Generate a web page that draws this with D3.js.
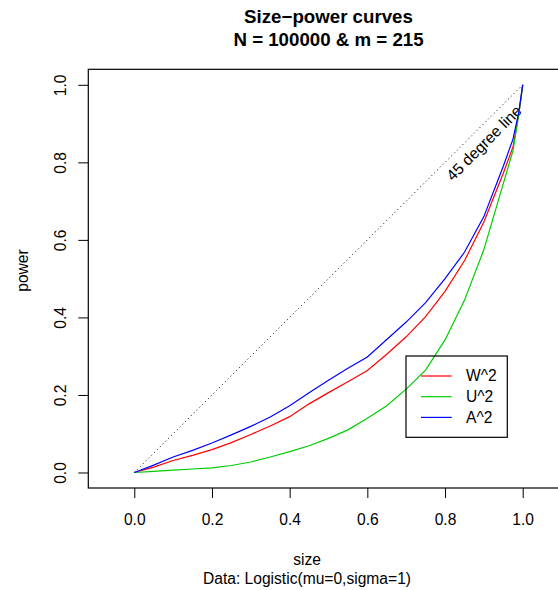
<!DOCTYPE html>
<html>
<head>
<meta charset="utf-8">
<script src="https://cdn.jsdelivr.net/npm/d3@7"></script>
<style>
  body { margin: 0; background: #fff; }
  svg { font-family: "Liberation Sans", Arial, Helvetica, sans-serif; }
  .axis text { font-size: 15.6px; fill: #000; }
  .axis line { stroke: #000; }
  .axis path { display: none; }
</style>
</head>
<body>
<svg width="558" height="590"></svg>
<script>
// size values the powers were read at
const sizes = [0, 0.05, 0.1, 0.15, 0.2, 0.25, 0.3, 0.35, 0.4, 0.45, 0.5,
  0.55, 0.6, 0.65, 0.7, 0.75, 0.8, 0.85, 0.9, 0.95, 0.975, 0.99, 1];

// power of each statistic
const powerW2 = [0, 0.014, 0.031, 0.044, 0.059, 0.077, 0.098, 0.120, 0.144, 0.177, 0.206,
  0.234, 0.263, 0.305, 0.350, 0.402, 0.467, 0.546, 0.646, 0.772, 0.84, 0.925, 1];
const powerU2 = [0, 0.003, 0.006, 0.009, 0.012, 0.018, 0.027, 0.040, 0.054, 0.069, 0.088,
  0.110, 0.140, 0.172, 0.215, 0.264, 0.342, 0.444, 0.575, 0.745, 0.83, 0.925, 1];
const powerA2 = [0, 0.019, 0.040, 0.057, 0.076, 0.097, 0.119, 0.143, 0.172, 0.206, 0.238,
  0.269, 0.298, 0.343, 0.388, 0.438, 0.500, 0.568, 0.660, 0.790, 0.86, 0.93, 1];

const seriesNames = ["W^2", "U^2", "A^2"];
const seriesColors = ["#ff0000", "#00cd00", "#0000ff"];
const xTicks = [0, 0.2, 0.4, 0.6, 0.8, 1];
const yTicks = [0, 0.2, 0.4, 0.6, 0.8, 1];

// plot region (right edge runs off the page, as in the original)
var box = {left: 88.3, top: 69.3, right: 568.7, bottom: 488};

var x = d3.scaleLinear().domain([-0.1184, 1.1184]).range([box.left, box.right]);
var y = d3.scaleLinear().domain([-0.04, 1.04]).range([box.bottom, box.top]);

var svg = d3.select("svg");

// Title
svg.append("text")
    .attr("x", 328.5).attr("y", 23.3)
    .attr("text-anchor", "middle")
    .style("font-size", "18.7px").style("font-weight", "bold")
    .text("Size\u2212power curves");
svg.append("text")
    .attr("x", 328.5).attr("y", 46.3)
    .attr("text-anchor", "middle")
    .style("font-size", "18.7px").style("font-weight", "bold")
    .text("N = 100000 & m = 215");

// 45 degree reference line
svg.append("line")
    .attr("x1", x(0)).attr("y1", y(0))
    .attr("x2", x(1)).attr("y2", y(1))
    .attr("stroke", "#000")
    .attr("stroke-width", 1)
    .attr("stroke-dasharray", "1,3");

svg.append("text")
    .attr("transform", "translate(" + x(0.9) + "," + y(0.85) + ") rotate(-45)")
    .attr("text-anchor", "middle")
    .attr("dy", "0.35em")
    .style("font-size", "15.6px")
    .text("45 degree line");

// the curves
var line = d3.line()
    .x(function(d) { return x(d[0]); })
    .y(function(d) { return y(d[1]); });

[powerW2, powerU2, powerA2].forEach(function(p, i) {
  svg.append("path")
      .attr("d", line(sizes.map(function(s, j) { return [s, p[j]]; })))
      .attr("fill", "none")
      .attr("stroke", seriesColors[i])
      .attr("stroke-width", 1.2);
});

// Add the X Axis
svg.append("g")
    .attr("class", "x axis")
    .attr("transform", "translate(0," + box.bottom + ")")
    .call(d3.axisBottom(x).tickValues(xTicks).tickFormat(d3.format(".1f"))
      .tickSize(10).tickPadding(16));

// Add the Y Axis, labels turned like R does
var gy = svg.append("g")
    .attr("class", "y axis")
    .attr("transform", "translate(" + box.left + ",0)")
    .call(d3.axisLeft(y).tickValues(yTicks).tickFormat(d3.format(".1f")).tickSize(10));
gy.selectAll(".tick text")
    .attr("x", null).attr("dy", null)
    .attr("text-anchor", "middle")
    .attr("transform", "translate(" + (65.5 - box.left) + ",0) rotate(-90)");

// frame
svg.append("rect")
    .attr("x", box.left).attr("y", box.top)
    .attr("width", box.right - box.left).attr("height", box.bottom - box.top)
    .attr("fill", "none").attr("stroke", "#000").attr("stroke-width", 1.2);

// axis titles
svg.append("text")
    .attr("x", 307).attr("y", 565)
    .attr("text-anchor", "middle")
    .style("font-size", "15.6px")
    .text("size");
svg.append("text")
    .attr("x", 307).attr("y", 584)
    .attr("text-anchor", "middle")
    .style("font-size", "15.6px")
    .text("Data: Logistic(mu=0,sigma=1)");
svg.append("text")
    .attr("transform", "translate(27.5,270.5) rotate(-90)")
    .attr("text-anchor", "middle")
    .style("font-size", "15.6px")
    .text("power");

// legend (no fill: the curves show through, as in the original)
var legend = svg.append("g").attr("transform", "translate(406,356)");
legend.append("rect")
    .attr("width", 101.3).attr("height", 81.3)
    .attr("fill", "none").attr("stroke", "#000").attr("stroke-width", 1.2);
seriesNames.forEach(function(name, i) {
  var row = legend.append("g").attr("transform", "translate(0," + (20 + i * 20.7) + ")");
  row.append("line")
      .attr("x1", 15).attr("x2", 45.7)
      .attr("stroke", seriesColors[i]).attr("stroke-width", 1.2);
  row.append("text")
      .attr("x", 60).attr("dy", "0.35em")
      .style("font-size", "15.6px")
      .text(name);
});
</script>
</body>
</html>
